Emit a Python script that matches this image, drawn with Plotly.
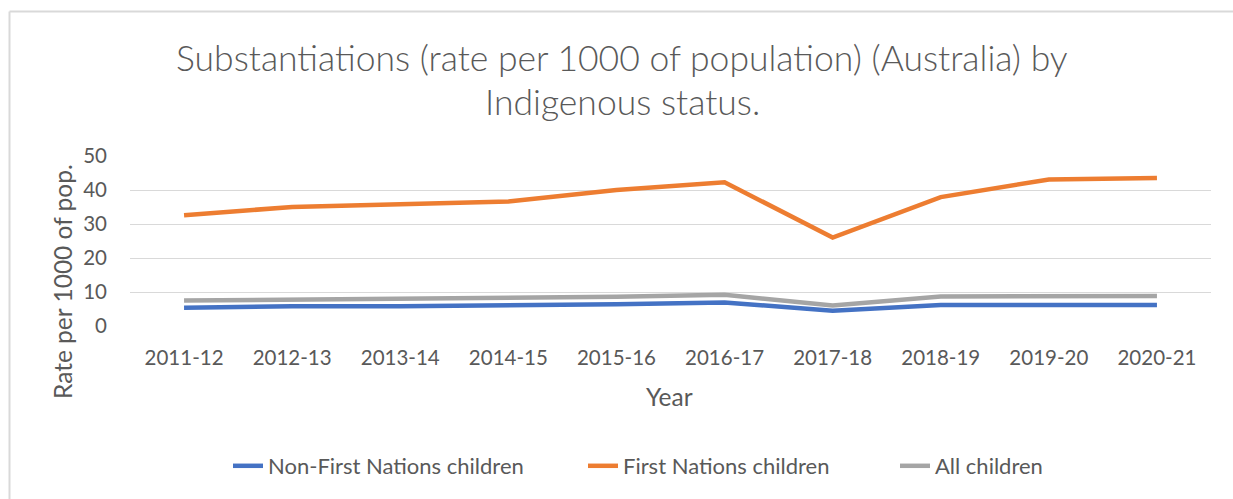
import plotly.graph_objects as go

# Substantiation rates per 1000 children, Australia
years = ["2011-12", "2012-13", "2013-14", "2014-15", "2015-16",
         "2016-17", "2017-18", "2018-19", "2019-20", "2020-21"]
non_first_nations = [5.4, 5.8, 5.8, 6.0, 6.4, 6.9, 4.5, 6.2, 6.3, 6.2]
first_nations = [32.6, 35.0, 35.8, 36.6, 40.0, 42.3, 26.0, 37.9, 43.1, 43.5]
all_children = [7.5, 7.8, 7.9, 8.1, 8.6, 9.2, 6.0, 8.7, 8.8, 8.8]

series_names = ["Non-First Nations children", "First Nations children", "All children"]
series_colors = ["#4472C4", "#ED7D31", "#A5A5A5"]

W, H = 1233, 499
ML, MR, MT, MB = 130, 22, 156, 173
PW, PH = W - ML - MR, H - MT - MB
FONT = "Lato"
TXT = "#595959"


def px_x(x):
    return (x - ML) / PW


def px_y(y):
    return (H - MB - y) / PH


fig = go.Figure()
legend_keys = ["legend", "legend2", "legend3"]
for name, vals, col, lg in zip(series_names,
                               [non_first_nations, first_nations, all_children],
                               series_colors, legend_keys):
    fig.add_trace(go.Scatter(
        x=years, y=vals, mode="lines", name=name,
        line=dict(color=col, width=4.5), legend=lg,
    ))

legend_style = dict(orientation="h", xanchor="left", yanchor="middle",
                    font=dict(family=FONT, size=22, color=TXT),
                    bgcolor="rgba(0,0,0,0)")
legend_left = [228, 583, 895]

fig.update_layout(
    width=W, height=H,
    margin=dict(l=ML, r=MR, t=MT, b=MB),
    paper_bgcolor="white", plot_bgcolor="white",
    font=dict(family=FONT, color=TXT),
    showlegend=True,
    legend=dict(x=px_x(legend_left[0]), y=px_y(466), **legend_style),
    legend2=dict(x=px_x(legend_left[1]), y=px_y(466), **legend_style),
    legend3=dict(x=px_x(legend_left[2]), y=px_y(466), **legend_style),
    xaxis=dict(
        type="category", range=[-0.5, 9.5], showgrid=False, zeroline=False,
        showline=False, ticks="", tickfont=dict(family=FONT, size=20.5, color=TXT),
        ticklabelstandoff=17,
    ),
    yaxis=dict(
        range=[0, 50], dtick=10, showgrid=True, gridcolor="#D9D9D9", gridwidth=1.3,
        zeroline=False, showline=False, ticks="",
        tickfont=dict(family=FONT, size=20.5, color=TXT), ticklabelstandoff=22,
    ),
)

# Title lines and axis titles
title_font = dict(family=FONT, size=35.5, color=TXT, weight=300)
fig.add_annotation(text="Substantiations (rate per 1000 of population) (Australia) by",
                   x=px_x(622), y=px_y(57), xref="paper", yref="paper",
                   xanchor="center", yanchor="middle",
                   showarrow=False, font=title_font)
fig.add_annotation(text="Indigenous status.",
                   x=px_x(622), y=px_y(101), xref="paper", yref="paper",
                   xanchor="center", yanchor="middle",
                   showarrow=False, font=title_font)
fig.add_annotation(text="Year", x=px_x(669), y=px_y(396), xref="paper", yref="paper",
                   xanchor="center", yanchor="middle",
                   showarrow=False, font=dict(family=FONT, size=24.5, color=TXT))
fig.add_annotation(text="Rate per 1000 of pop.", x=px_x(62), y=px_y(282),
                   xref="paper", yref="paper", textangle=-90,
                   xanchor="center", yanchor="middle",
                   showarrow=False, font=dict(family=FONT, size=24.5, color=TXT))

# Chart frame (top and left edges)
fig.add_shape(type="line", xref="paper", yref="paper",
              x0=px_x(9.5), x1=px_x(W + 2), y0=px_y(11.5), y1=px_y(11.5),
              line=dict(color="#D9D9D9", width=2))
fig.add_shape(type="line", xref="paper", yref="paper",
              x0=px_x(9.5), x1=px_x(9.5), y0=px_y(11.5), y1=px_y(H + 2),
              line=dict(color="#D9D9D9", width=2))

fig.write_html("out.html")
